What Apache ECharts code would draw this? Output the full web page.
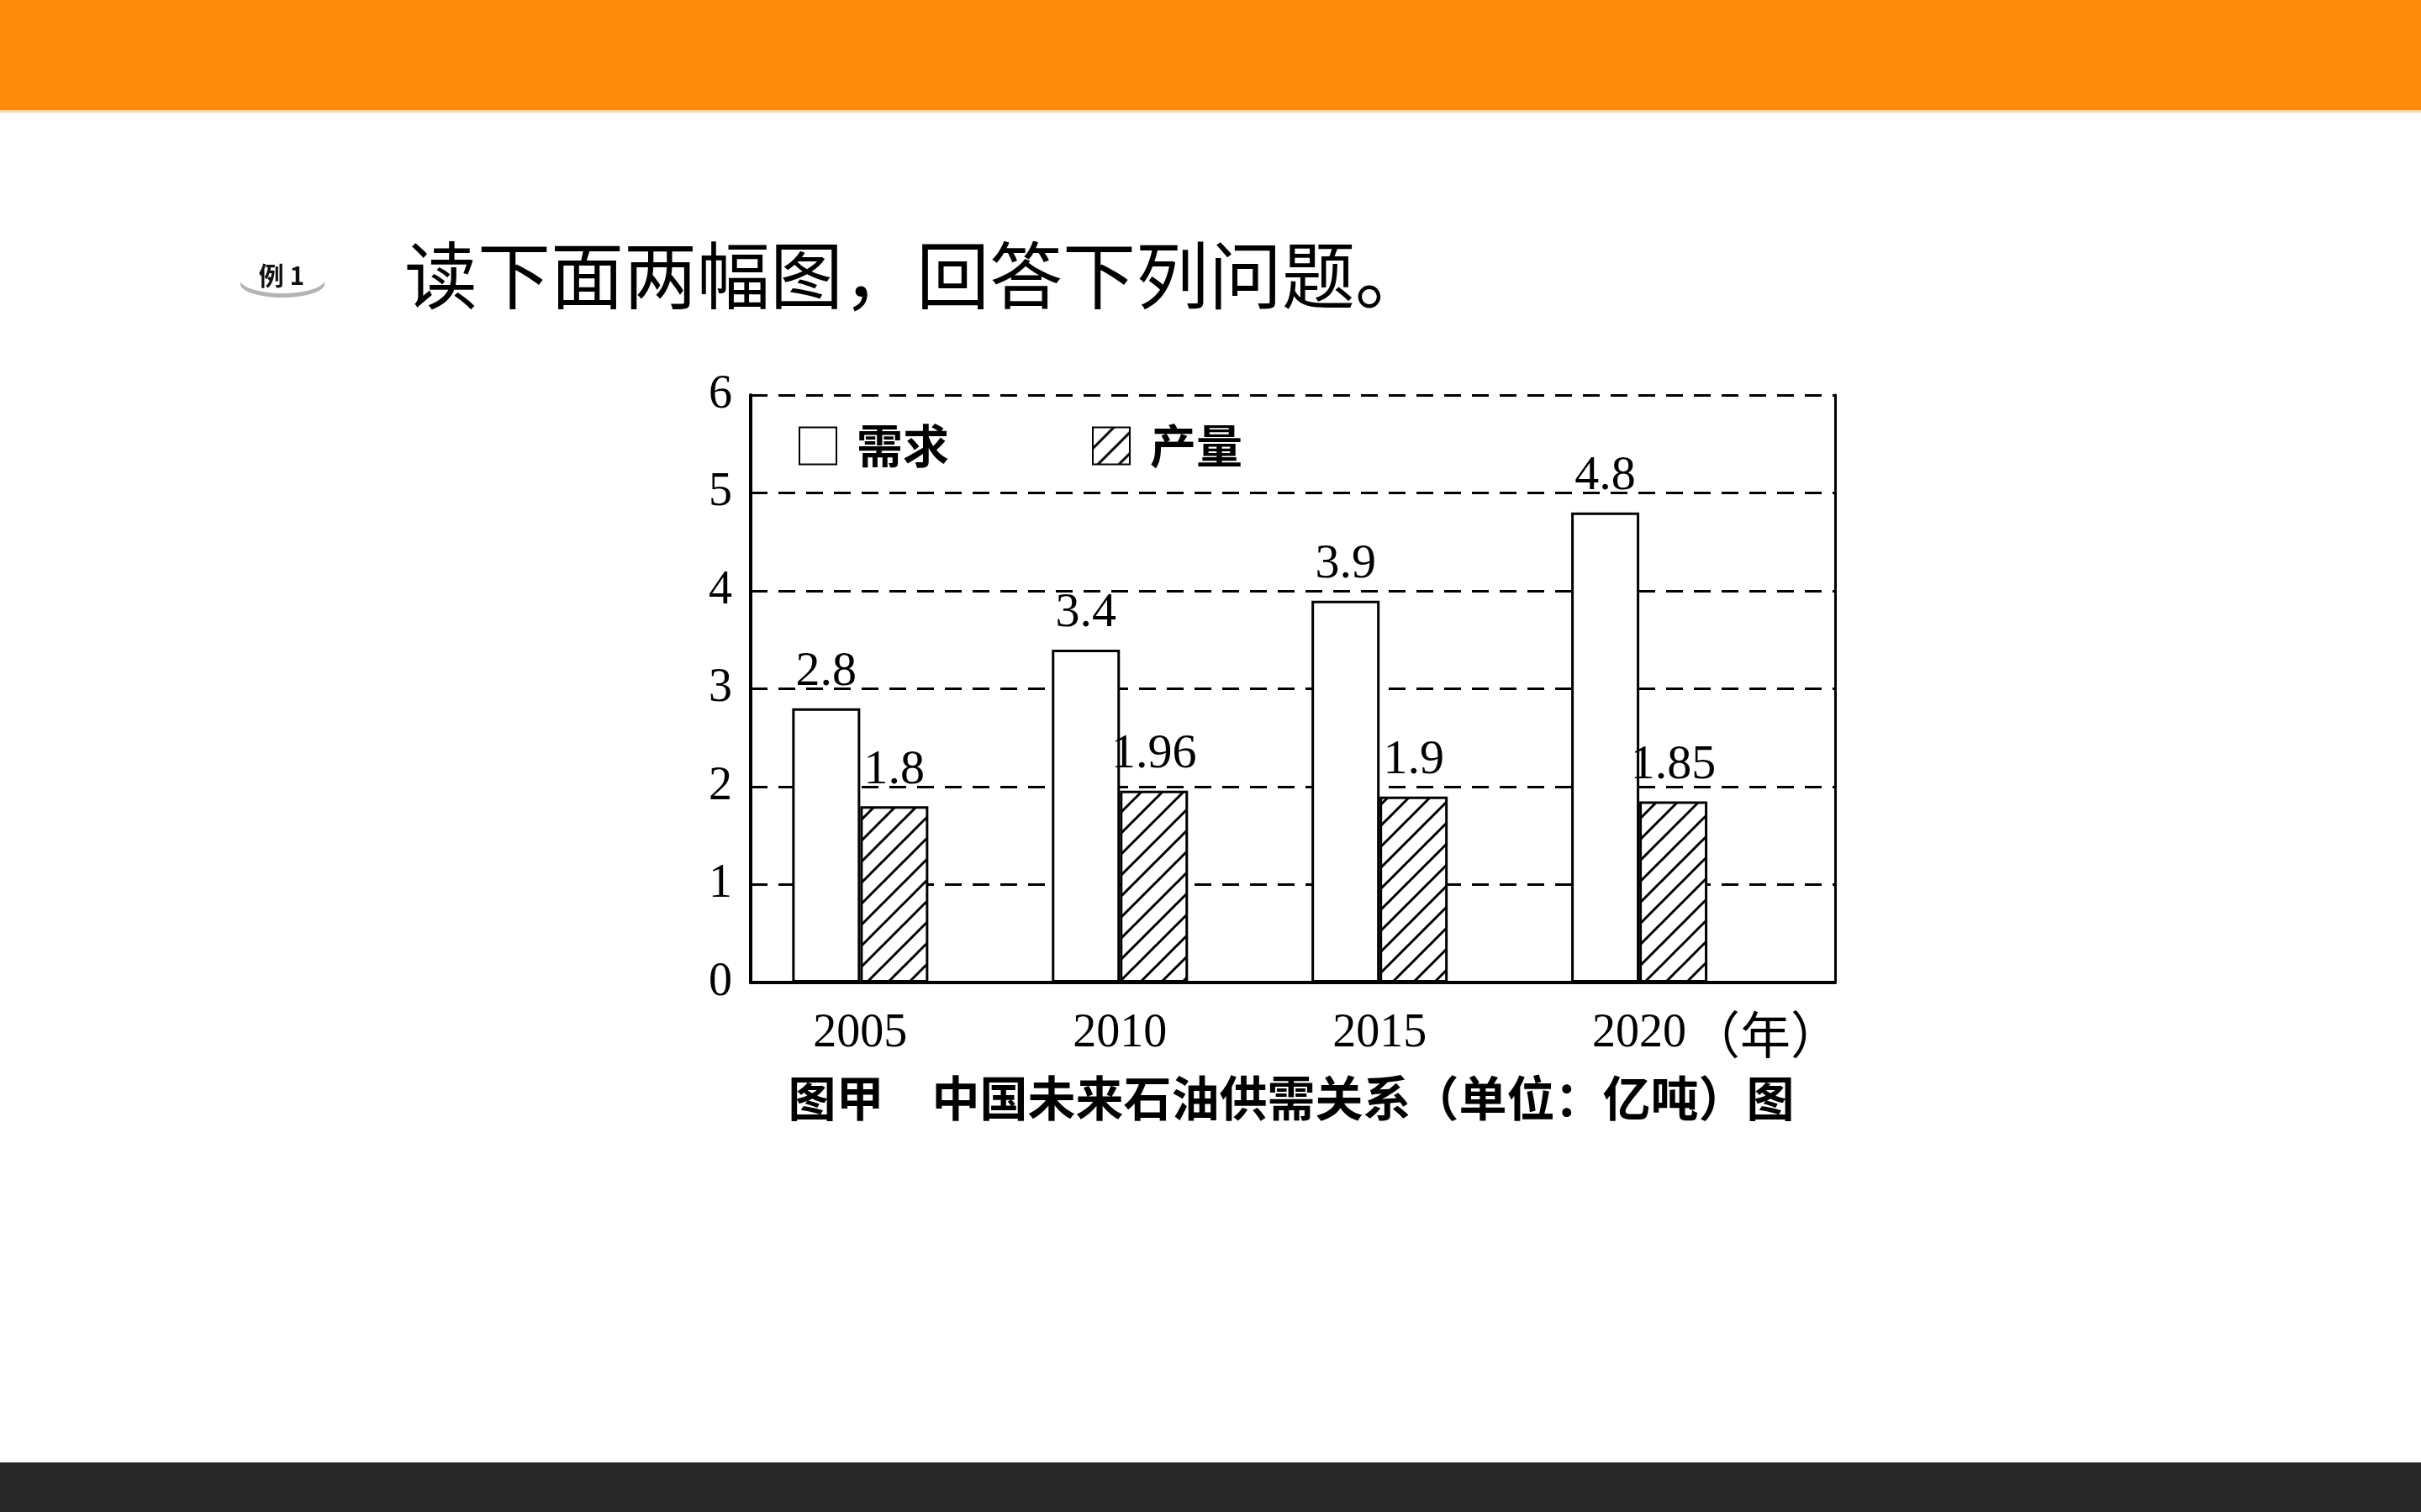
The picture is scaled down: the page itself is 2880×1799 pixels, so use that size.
<!DOCTYPE html>
<html><head><meta charset="utf-8">
<script src="https://cdn.jsdelivr.net/npm/echarts@6/dist/echarts.min.js"></script>
<style>html,body{margin:0;padding:0;background:#fff}#c{width:2880px;height:1799px}</style>
</head><body><div id="c"></div>
<script>
const years = [2005, 2010, 2015, 2020];
const demand = [2.8, 3.4, 3.9, 4.8];
const output = [1.8, 1.96, 1.9, 1.85];
const seriesNames = ['需求', '产量'];
const headline = '读下面两幅图，回答下列问题。';
const caption = '图甲　中国未来石油供需关系（单位：亿吨）图';
const unitLabel = '（年）';
const badgeText = '例 1';

const SERIF = 'Liberation Serif';
const CJK = 'Noto Sans CJK SC';

function hatch() {
  const s = 25, c = document.createElement('canvas');
  c.width = s; c.height = s;
  const g = c.getContext('2d');
  g.fillStyle = '#fff'; g.fillRect(0, 0, s, s);
  g.strokeStyle = '#000'; g.lineWidth = 3;
  g.beginPath();
  for (const o of [-s, 0, s]) { g.moveTo(o - 2, s + 2); g.lineTo(o + s + 2, -2); }
  g.stroke();
  return c;
}

const chart = echarts.init(document.getElementById('c'));
const labelCommon = {
  show: true, position: 'top', distance: 14,
  fontFamily: SERIF, fontSize: 58, color: '#000',
  formatter: p => String(p.value[1])
};
chart.setOption({
  backgroundColor: '#fff',
  animation: false,
  grid: { left: 893, right: 697, top: 470, bottom: 630, containLabel: false },
  legend: {
    left: 945, top: 498, itemWidth: 44, itemHeight: 44, itemGap: 170, icon: 'rect',
    textStyle: { fontFamily: CJK, fontSize: 55, fontWeight: 'bold', color: '#000', padding: [0, 0, 0, 19] },
    data: seriesNames
  },
  xAxis: {
    type: 'value', min: 2002.89, max: 2023.77,
    splitLine: { show: false }, axisTick: { show: false },
    axisLine: { show: true, lineStyle: { color: '#000', width: 4 } },
    axisLabel: { customValues: years, formatter: v => String(v), fontFamily: SERIF, fontSize: 56, color: '#000', margin: 33 },
    name: unitLabel, nameLocation: 'end', nameGap: -186,
    nameTextStyle: { fontFamily: CJK, fontSize: 60, color: '#000', align: 'left', verticalAlign: 'top', padding: [32, 0, 0, 0] }
  },
  yAxis: [{
    type: 'value', min: 0, max: 6, interval: 1,
    axisLine: { show: true, lineStyle: { color: '#000', width: 4 } },
    axisTick: { show: false },
    splitLine: { show: true, lineStyle: { color: '#000', width: 3, type: [20, 13] } },
    axisLabel: { fontFamily: SERIF, fontSize: 56, color: '#000', margin: 22 }
  }, {
    type: 'value', position: 'right', min: 0, max: 6, interval: 1,
    axisLine: { show: true, lineStyle: { color: '#000', width: 3 } },
    axisTick: { show: false }, axisLabel: { show: false }, splitLine: { show: false }
  }],
  series: [{
    name: seriesNames[0], type: 'bar', barWidth: 81, barGap: '0%',
    data: years.map((y, i) => [y, demand[i]]),
    itemStyle: { color: '#fff', borderColor: '#000', borderWidth: 3 },
    label: labelCommon
  }, {
    name: seriesNames[1], type: 'bar', barWidth: 81, barGap: '0%',
    data: years.map((y, i) => [y, output[i]]),
    itemStyle: { color: { image: hatch(), repeat: 'repeat' }, borderColor: '#000', borderWidth: 3 },
    label: labelCommon
  }],
  graphic: [
    { type: 'rect', shape: { x: 0, y: 0, width: 2880, height: 131 }, style: { fill: '#FF8A0C' } },
    { type: 'rect', shape: { x: 0, y: 131, width: 2880, height: 3 }, style: { fill: '#FFD7A6' } },
    { type: 'rect', shape: { x: 0, y: 1740, width: 2880, height: 59 }, style: { fill: '#282828' } },
    { type: 'ellipse', shape: { cx: 336, cy: 338, rx: 50, ry: 16 }, style: { fill: '#b4b4b4' } },
    { type: 'ellipse', shape: { cx: 336, cy: 333, rx: 50, ry: 16 }, style: { fill: '#fff' } },
    { type: 'text', x: 335, y: 328, style: { text: badgeText, fontFamily: CJK, fontSize: 30, fontWeight: 'bold', fill: '#111', textAlign: 'center', textVerticalAlign: 'middle' } },
    { type: 'text', x: 481, y: 328, style: { text: headline, fontFamily: CJK, fontSize: 87, fill: '#000', textAlign: 'left', textVerticalAlign: 'middle' } },
    { type: 'text', x: 1536, y: 1306, style: { text: caption, fontFamily: CJK, fontSize: 57, fontWeight: 'bold', fill: '#000', textAlign: 'center', textVerticalAlign: 'middle' } }
  ]
});
</script>
</body></html>
